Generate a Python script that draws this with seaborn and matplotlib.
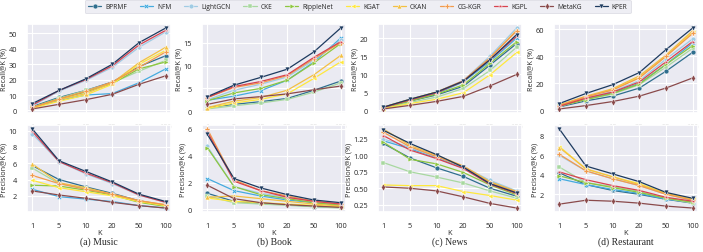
import numpy as np
import pandas as pd
import matplotlib
matplotlib.use("Agg")
import matplotlib.pyplot as plt
from matplotlib.ticker import MultipleLocator, FormatStrFormatter
import seaborn as sns

K = ["1", "5", "10", "20", "50", "100"]
methods = ["BPRMF", "NFM", "LightGCN", "CKE", "RippleNet", "KGAT", "CKAN", "CG-KGR", "KGPL", "MetaKG", "KPER"]
datasets = ["Music", "Book", "News", "Restaurant"]
captions = ["(a) Music", "(b) Book", "(c) News", "(d) Restaurant"]

music_recall = {
    "BPRMF": [2.5, 8.5, 13, 18.5, 28.5, 35.5],
    "NFM": [2, 6.5, 10, 11, 18, 27],
    "LightGCN": [3, 12.5, 19.5, 28, 41, 51],
    "CKE": [2, 8, 13, 18, 25.5, 32.5],
    "RippleNet": [2, 7.5, 12, 17.5, 27, 31.5],
    "KGAT": [1.5, 6, 10, 17, 30, 39],
    "CKAN": [2, 7, 11, 18, 31, 41],
    "CG-KGR": [2, 7.5, 12.5, 18.5, 28, 38],
    "KGPL": [3.5, 13, 20, 29, 42.5, 52],
    "MetaKG": [1, 4, 7, 10.5, 17, 22.5],
    "KPER": [4.5, 13, 20.5, 30, 44, 53.5],
}
music_precision = {
    "BPRMF": [5.7, 4.0, 3.1, 2.3, 1.4, 0.8],
    "NFM": [2.8, 1.9, 1.6, 1.3, 0.8, 0.5],
    "LightGCN": [9.6, 6.2, 4.7, 3.5, 2.1, 1.2],
    "CKE": [5.4, 3.5, 2.9, 2.1, 1.3, 0.8],
    "RippleNet": [3.3, 3.2, 2.7, 2.1, 1.2, 0.7],
    "KGAT": [3.9, 3.0, 2.5, 2.0, 1.3, 0.8],
    "CKAN": [5.9, 3.6, 3.0, 2.2, 1.4, 0.9],
    "CG-KGR": [4.5, 3.5, 2.8, 2.2, 1.4, 0.9],
    "KGPL": [9.9, 6.2, 4.8, 3.6, 2.1, 1.2],
    "MetaKG": [2.6, 2.1, 1.7, 1.2, 0.8, 0.5],
    "KPER": [10.2, 6.3, 5.0, 3.7, 2.2, 1.3],
}
book_recall = {
    "BPRMF": [0.8, 1.5, 2.1, 2.8, 4.6, 6.6],
    "NFM": [2.4, 3.3, 4.5, 6.8, 10.8, 16.0],
    "LightGCN": [2.5, 4.6, 5.9, 7.5, 11.2, 15.5],
    "CKE": [0.5, 1.2, 1.8, 2.6, 4.2, 6.2],
    "RippleNet": [2.3, 4.0, 5.0, 6.8, 10.6, 14.8],
    "KGAT": [0.6, 1.8, 2.6, 3.8, 7.2, 10.8],
    "CKAN": [0.8, 2.2, 3.0, 4.6, 8.0, 12.2],
    "CG-KGR": [3.0, 5.2, 6.2, 7.8, 11.5, 15.0],
    "KGPL": [3.0, 5.4, 6.5, 8.0, 11.8, 15.2],
    "MetaKG": [1.5, 2.7, 3.2, 3.8, 4.7, 5.5],
    "KPER": [3.2, 5.7, 7.4, 9.2, 13.0, 18.2],
}
book_precision = {
    "BPRMF": [1.2, 0.6, 0.45, 0.35, 0.2, 0.15],
    "NFM": [2.3, 1.4, 1.0, 0.7, 0.5, 0.3],
    "LightGCN": [4.7, 1.7, 1.2, 0.9, 0.6, 0.4],
    "CKE": [1.0, 0.5, 0.4, 0.3, 0.2, 0.1],
    "RippleNet": [4.6, 1.7, 1.1, 0.8, 0.5, 0.3],
    "KGAT": [0.85, 0.6, 0.5, 0.4, 0.3, 0.2],
    "CKAN": [0.9, 1.0, 0.8, 0.6, 0.4, 0.25],
    "CG-KGR": [6.0, 2.2, 1.4, 1.0, 0.6, 0.4],
    "KGPL": [5.8, 2.1, 1.4, 0.9, 0.6, 0.4],
    "MetaKG": [1.8, 0.8, 0.5, 0.35, 0.25, 0.15],
    "KPER": [5.6, 2.3, 1.6, 1.1, 0.7, 0.5],
}
news_recall = {
    "BPRMF": [0.7, 2.5, 4.2, 6.6, 12.5, 18.5],
    "NFM": [0.7, 2.8, 4.6, 7.8, 13.5, 20.0],
    "LightGCN": [0.8, 3.0, 5.0, 8.2, 15.0, 22.8],
    "CKE": [0.5, 2.1, 3.6, 6.0, 11.0, 17.5],
    "RippleNet": [0.7, 2.5, 4.4, 7.0, 13.0, 19.0],
    "KGAT": [0.4, 1.8, 3.0, 4.8, 9.8, 16.0],
    "CKAN": [0.8, 3.0, 5.0, 8.0, 14.5, 22.2],
    "CG-KGR": [0.8, 2.9, 5.0, 8.2, 14.5, 22.0],
    "KGPL": [0.7, 2.8, 4.8, 8.0, 14.0, 20.5],
    "MetaKG": [0.3, 1.3, 2.4, 3.8, 6.7, 9.9],
    "KPER": [0.8, 3.0, 5.0, 8.0, 14.0, 21.0],
}
news_precision = {
    "BPRMF": [1.18, 0.96, 0.81, 0.68, 0.50, 0.38],
    "NFM": [1.22, 1.10, 0.96, 0.81, 0.60, 0.45],
    "LightGCN": [1.25, 1.12, 0.97, 0.83, 0.62, 0.46],
    "CKE": [0.89, 0.75, 0.67, 0.58, 0.46, 0.35],
    "RippleNet": [1.20, 0.94, 0.87, 0.74, 0.55, 0.40],
    "KGAT": [0.55, 0.54, 0.54, 0.45, 0.39, 0.32],
    "CKAN": [1.40, 1.15, 1.00, 0.84, 0.60, 0.45],
    "CG-KGR": [1.35, 1.13, 0.98, 0.83, 0.58, 0.44],
    "KGPL": [1.30, 1.08, 0.95, 0.80, 0.56, 0.42],
    "MetaKG": [0.52, 0.50, 0.46, 0.37, 0.27, 0.20],
    "KPER": [1.38, 1.18, 1.01, 0.82, 0.57, 0.43],
}
restaurant_recall = {
    "BPRMF": [2.5, 7, 10.5, 16.5, 29, 43],
    "NFM": [3, 8.5, 13, 20, 34, 50],
    "LightGCN": [3.5, 9, 14, 22, 38, 53],
    "CKE": [3, 8, 12, 19, 32, 46],
    "RippleNet": [3, 8, 12.5, 19.5, 34, 48],
    "KGAT": [3.5, 10, 15.5, 24.5, 40, 58],
    "CKAN": [4, 10.5, 16, 25.5, 41, 59],
    "CG-KGR": [3.5, 10, 15, 24, 40, 57],
    "KGPL": [3, 9, 13.5, 21, 36, 51],
    "MetaKG": [1, 3.5, 6.5, 10.5, 16.5, 24],
    "KPER": [5, 12.5, 19, 28, 45, 61],
}
restaurant_precision = {
    "BPRMF": [4.2, 3.0, 2.4, 2.0, 1.5, 1.1],
    "NFM": [3.6, 3.0, 2.5, 2.1, 1.5, 1.2],
    "LightGCN": [6.0, 4.4, 3.6, 2.9, 2.0, 1.4],
    "CKE": [4.8, 3.2, 2.8, 2.3, 1.6, 1.1],
    "RippleNet": [3.9, 3.2, 2.7, 2.2, 1.6, 1.2],
    "KGAT": [6.9, 4.6, 3.8, 3.1, 2.1, 1.5],
    "CKAN": [6.8, 4.6, 3.8, 3.0, 2.1, 1.5],
    "CG-KGR": [6.1, 4.4, 3.6, 2.9, 2.0, 1.4],
    "KGPL": [4.3, 3.5, 2.9, 2.4, 1.7, 1.3],
    "MetaKG": [1.0, 1.4, 1.3, 1.1, 0.8, 0.6],
    "KPER": [8.7, 4.9, 4.1, 3.3, 2.2, 1.6],
}

recall_data = [music_recall, book_recall, news_recall, restaurant_recall]
precision_data = [music_precision, book_precision, news_precision, restaurant_precision]
recall_tick_step = [10, 5, 5, 20]
precision_tick_step = [2, 2, 0.25, 2]

colors = {
    "BPRMF": "#2f6e8e", "NFM": "#45abdf", "LightGCN": "#a0cbe4", "CKE": "#a8d8a0",
    "RippleNet": "#8dc63f", "KGAT": "#ffe83c", "CKAN": "#f3c043", "CG-KGR": "#f29a4c",
    "KGPL": "#d8434f", "MetaKG": "#8a4a4b", "KPER": "#1d3a5f",
}
markers = {
    "BPRMF": "o", "NFM": "X", "LightGCN": "o", "CKE": "s", "RippleNet": ">",
    "KGAT": "<", "CKAN": "^", "CG-KGR": "P", "KGPL": "*", "MetaKG": "d", "KPER": "v",
}

sns.set_theme(style="darkgrid")
plt.rcParams["font.family"] = ["Open Sans", "DejaVu Sans"]
plt.rcParams["grid.linewidth"] = 0.8

fig = plt.figure(figsize=(7.03, 2.53), dpi=100)
W, H = 703, 253
lefts = [27, 202, 378, 554]
aw = 144
FS = 5.3


def make_df(d):
    rows = []
    for m in methods:
        for i, v in enumerate(d[m]):
            rows.append({"pos": i, "value": v, "method": m})
    return pd.DataFrame(rows)


handles = None
for c in range(4):
    ax_top = fig.add_axes([lefts[c] / W, 1 - 114 / H, aw / W, 89 / H])
    ax_bot = fig.add_axes([lefts[c] / W, 1 - 213 / H, aw / W, 87 / H])
    for ax, d, lab, step in [(ax_top, recall_data[c], "Recall@K (%)", recall_tick_step[c]),
                             (ax_bot, precision_data[c], "Precision@K (%)", precision_tick_step[c])]:
        df = make_df(d)
        sns.lineplot(data=df, x="pos", y="value", hue="method", style="method",
                     hue_order=methods, style_order=methods, palette=colors,
                     markers=markers, dashes=False, linewidth=0.9, markersize=3.5,
                     markeredgewidth=0.3, ax=ax, legend=True)
        ax.set_xticks(range(len(K)))
        ax.set_xticklabels(K)
        ax.set_xlim(-0.2, len(K) - 0.8)
        ax.yaxis.set_major_locator(MultipleLocator(step))
        if step < 1:
            ax.yaxis.set_major_formatter(FormatStrFormatter("%.2f"))
        else:
            ax.yaxis.set_major_formatter(FormatStrFormatter("%d"))
        ax.set_ylabel(lab, fontsize=5.2, labelpad=0.6)
        ax.tick_params(axis="both", labelsize=FS, pad=1.2)
        if handles is None:
            handles, labels = ax.get_legend_handles_labels()
        ax.get_legend().remove()
    ax_top.set_xlabel("")
    ax_bot.set_xlabel("K", fontsize=FS, labelpad=0)
    fig.text((lefts[c] + aw / 2) / W, 1 - 242.5 / H, captions[c], ha="center", va="center",
             fontsize=7, family=["Liberation Serif", "DejaVu Serif"])

leg = fig.legend(handles, labels, loc="upper center", bbox_to_anchor=(0.509, 1.0), ncol=11,
                 fontsize=4.8, frameon=True, handlelength=2.0, columnspacing=1.9,
                 handletextpad=0.6, borderpad=0.45, borderaxespad=0.15)
leg.get_frame().set_facecolor("#eaeaf2")
leg.get_frame().set_edgecolor("#d8d8e0")
leg.get_frame().set_linewidth(0.6)

fig.savefig("out.png", dpi=100)
